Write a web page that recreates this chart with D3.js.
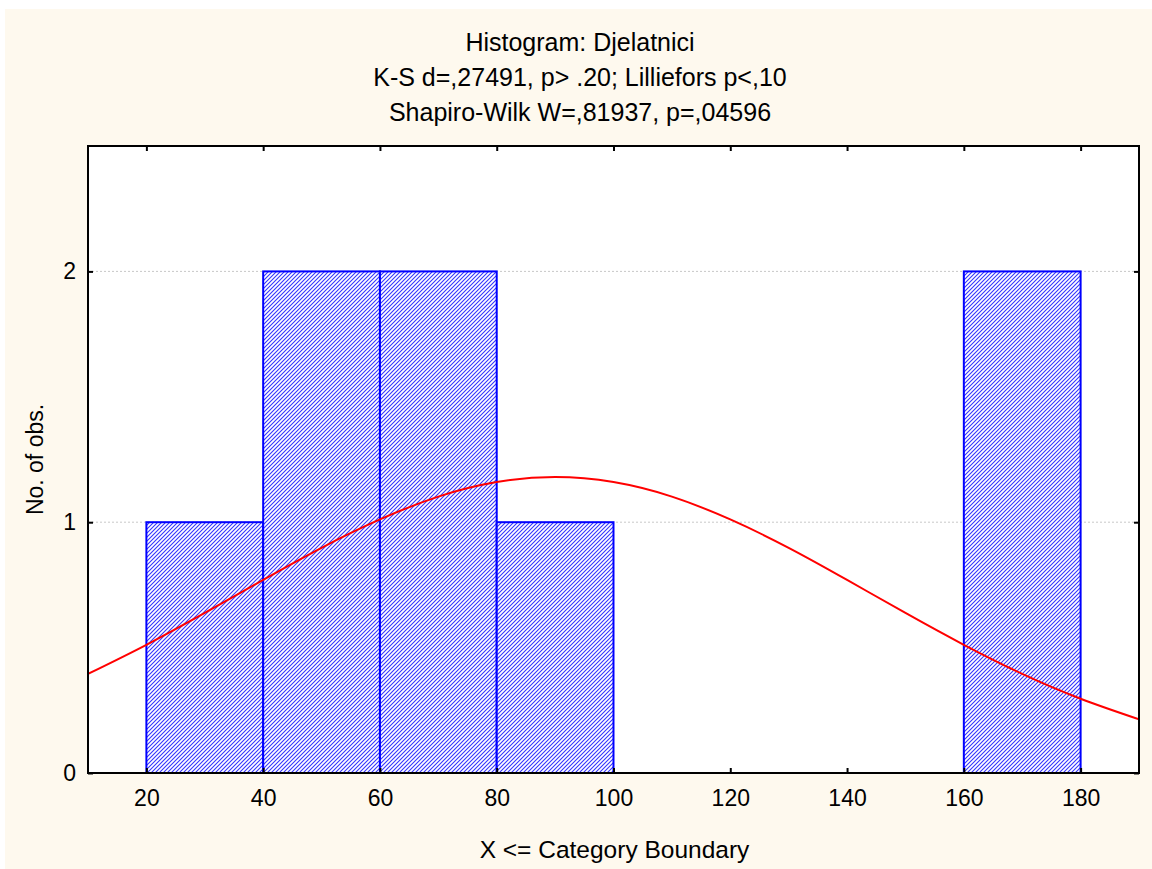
<!DOCTYPE html>
<html><head><meta charset="utf-8">
<script src="https://cdn.jsdelivr.net/npm/d3@7"></script>
<style>body{margin:0;background:#fff}svg{display:block}text{font-family:"Liberation Sans",Arial,sans-serif;fill:#000}</style>
</head><body><svg id="c" width="1152" height="869"></svg>
<script>
const titleLines = ["Histogram: Djelatnici", "K-S d=,27491, p> .20; Lilliefors p<,10", "Shapiro-Wilk W=,81937, p=,04596"];
const binStarts = [20, 40, 60, 80, 100, 120, 140, 160];
const binEnds   = [40, 60, 80, 100, 120, 140, 160, 180];
const binCounts = [1, 2, 2, 1, 0, 0, 0, 2];
const xTicks = [20, 40, 60, 80, 100, 120, 140, 160, 180];
const yTicks = [0, 1, 2];
const curveX = [10,20,30,40,50,60,70,80,90,100,110,120,130,140,150,160,170,180,190];
const curveY = [0.395,0.511,0.638,0.770,0.898,1.011,1.102,1.160,1.180,1.160,1.102,1.011,0.898,0.770,0.638,0.511,0.395,0.296,0.214];
const xLabel = "X <= Category Boundary";
const yLabel = "No. of obs.";

const svg = d3.select("#c");
svg.append("rect").attr("x",5).attr("y",9).attr("width",1147).attr("height",860).attr("fill","#fef9ee");
const L=88, T=146, R=1139, B=773;
const x = d3.scaleLinear().domain([10,190]).range([L,R]);
const y = d3.scaleLinear().domain([0,2.5]).range([B,T]);

const defs = svg.append("defs");
const pat = defs.append("pattern").attr("id","hatch").attr("patternUnits","userSpaceOnUse").attr("width",4).attr("height",4);
pat.append("rect").attr("width",4).attr("height",4).attr("fill","#fff");
pat.append("path").attr("d","M-1,1 L1,-1 M0,4 L4,0 M3,5 L5,3").attr("stroke","#3333ff").attr("stroke-width",1.1);
defs.append("clipPath").attr("id","clip").append("rect").attr("x",L).attr("y",T).attr("width",R-L).attr("height",B-T);

svg.append("rect").attr("x",L).attr("y",T).attr("width",R-L).attr("height",B-T).attr("fill","#fff");

// gridlines
svg.append("g").selectAll("line").data(yTicks.filter(d=>d>0)).join("line")
  .attr("x1",L).attr("x2",R).attr("y1",d=>y(d)).attr("y2",d=>y(d))
  .attr("stroke","#c8c8c8").attr("stroke-width",1).attr("stroke-dasharray","2,2");

// bars
const bins = binStarts.map((s,i)=>({s, e:binEnds[i], c:binCounts[i]})).filter(d=>d.c>0);
svg.append("g").selectAll("rect").data(bins).join("rect")
  .attr("x",d=>x(d.s)).attr("y",d=>y(d.c)).attr("width",d=>x(d.e)-x(d.s)).attr("height",d=>y(0)-y(d.c))
  .attr("fill","url(#hatch)").attr("stroke","#0000ff").attr("stroke-width",2);

// curve
const line = d3.line().x((d,i)=>x(curveX[i])).y(d=>y(d)).curve(d3.curveNatural);
svg.append("path").attr("d",line(curveY)).attr("fill","none").attr("stroke","#ff0000").attr("stroke-width",2).attr("clip-path","url(#clip)");

// axes
const fs = "23px", fsT = "25px", fsX = "24.5px";
const gx = svg.append("g").attr("transform",`translate(0,${B})`).call(d3.axisBottom(x).tickValues(xTicks).tickSizeInner(-5).tickSizeOuter(0).tickPadding(17));
const gxt = svg.append("g").attr("transform",`translate(0,${T})`).call(d3.axisTop(x).tickValues(xTicks).tickSizeInner(-5).tickSizeOuter(0).tickFormat(""));
const gy = svg.append("g").attr("transform",`translate(${L},0)`).call(d3.axisLeft(y).tickValues(yTicks).tickSizeInner(-5).tickSizeOuter(0).tickPadding(12).tickFormat(d3.format("d")));
const gyr = svg.append("g").attr("transform",`translate(${R},0)`).call(d3.axisRight(y).tickValues(yTicks).tickSizeInner(-5).tickSizeOuter(0).tickFormat(""));
[gx,gxt,gy,gyr].forEach(g=>{
  g.select(".domain").remove();
  g.selectAll("line").attr("stroke","#000").attr("stroke-width",2);
  g.selectAll("text").style("font-size",fs).style("font-family","'Liberation Sans',Arial,sans-serif").attr("fill","#000");
});
svg.append("rect").attr("x",L).attr("y",T).attr("width",R-L).attr("height",B-T).attr("fill","none").attr("stroke","#000").attr("stroke-width",2);

// titles
svg.append("g").selectAll("text").data(titleLines).join("text")
  .attr("x",580).attr("y",(d,i)=>42+35*i).attr("dy","0.35em").attr("text-anchor","middle").style("font-size",fsT).text(d=>d);
svg.append("text").attr("x",(L+R)/2 + 1).attr("y",849).attr("dy","0.35em").attr("text-anchor","middle").style("font-size",fsX).text(xLabel);
svg.append("text").attr("transform",`translate(35,${(T+B)/2}) rotate(-90)`).attr("dy","0.35em").attr("text-anchor","middle").style("font-size",fs).text(yLabel);
</script></body></html>
